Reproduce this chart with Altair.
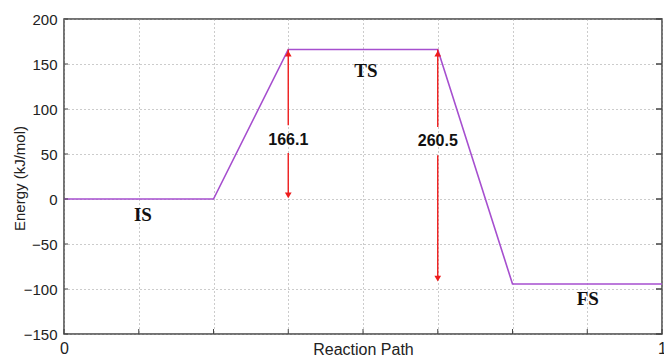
import altair as alt
import pandas as pd

# Energy profile
path_x = [0.0, 0.25, 0.375, 0.625, 0.75, 1.0]
path_e = [0.0, 0.0, 166.1, 166.1, -94.4, -94.4]

# state labels
state_names = ["IS", "TS", "FS"]
state_x = [0.132, 0.505, 0.876]
state_y = [-18.0, 142.0, -111.0]

# barrier arrows: segments (x, y_start, y_end)
seg_x = [0.375, 0.375, 0.625, 0.625]
seg_y1 = [166.1, 51.0, 166.1, 48.5]
seg_y2 = [82.0, 4.0, 80.0, -88.5]

head_x = [0.375, 0.375, 0.625, 0.625]
head_y = [161.5, 4.0, 161.5, -88.5]
head_shape = ["triangle-up", "triangle-down", "triangle-up", "triangle-down"]

barrier_text = ["166.1", "260.5"]
barrier_x = [0.375, 0.625]
barrier_y = [66.0, 64.5]

x_grid = [0, 0.125, 0.25, 0.375, 0.5, 0.625, 0.75, 0.875, 1.0]
y_ticks = [-150, -100, -50, 0, 50, 100, 150, 200]

W, H = 598, 315
xs = alt.Scale(domain=[0, 1], nice=False, zero=False)
ys = alt.Scale(domain=[-150, 200], nice=False, zero=False)

line_df = pd.DataFrame({"x": path_x, "e": path_e})
base_x = alt.X("x:Q", scale=xs,
               axis=alt.Axis(values=x_grid, title="Reaction Path",
                             labelExpr="datum.value == 0 ? '0' : (datum.value == 1 ? '1' : '')",
                             grid=True, gridDash=[1, 3], gridColor="#999999", gridOpacity=1,
                             ticks=False, domain=False, labelFont="Liberation Sans",
                             labelFontSize=16, labelColor="#222", labelPadding=6,
                             labelFlush=False,
                             titleFont="Liberation Sans", titleFontSize=16, titleFontWeight="normal",
                             titleColor="#222", titlePadding=-15))
base_y = alt.Y("e:Q", scale=ys,
               axis=alt.Axis(values=y_ticks, title="Energy (kJ/mol)",
                             grid=True, gridDash=[1, 3], gridColor="#999999", gridOpacity=1,
                             ticks=False, domain=False, labelFont="Liberation Sans",
                             labelFontSize=15, labelColor="#222", labelPadding=7,
                             titleFont="Liberation Sans", titleFontSize=15, titleFontWeight="normal",
                             titleColor="#222", titleX=-37, titleY=159))

line = alt.Chart(line_df).mark_line(color="#a64fcf", strokeWidth=1.6).encode(x=base_x, y=base_y)

seg_df = pd.DataFrame({"x": seg_x, "y1": seg_y1, "y2": seg_y2})
segs = alt.Chart(seg_df).mark_rule(color="#ee1c1c", strokeWidth=1.4).encode(
    x=alt.X("x:Q", scale=xs), y=alt.Y("y1:Q", scale=ys), y2="y2:Q")

head_df = pd.DataFrame({"x": head_x, "y": head_y, "shape": head_shape})
heads = alt.Chart(head_df).mark_point(filled=True, color="#ee1c1c", size=45, opacity=1).encode(
    x=alt.X("x:Q", scale=xs), y=alt.Y("y:Q", scale=ys),
    shape=alt.Shape("shape:N", scale=None))

bt_df = pd.DataFrame({"x": barrier_x, "y": barrier_y, "t": barrier_text})
btext = alt.Chart(bt_df).mark_text(font="Liberation Sans", fontWeight="bold", fontSize=16,
                                   color="#111").encode(
    x=alt.X("x:Q", scale=xs), y=alt.Y("y:Q", scale=ys), text="t:N")

st_df = pd.DataFrame({"x": state_x, "y": state_y, "t": state_names})
stext = alt.Chart(st_df).mark_text(font="Liberation Serif", fontWeight="bold", fontSize=19,
                                   color="#111").encode(
    x=alt.X("x:Q", scale=xs), y=alt.Y("y:Q", scale=ys), text="t:N")

# inward ticks on bottom and edges
btick_df = pd.DataFrame({"x": x_grid})
bticks = alt.Chart(btick_df).mark_rule(color="#444", strokeWidth=1).encode(
    x=alt.X("x:Q", scale=xs), y=alt.value(H), y2=alt.value(H - 5))
rtick_df = pd.DataFrame({"y": y_ticks})
rticks = alt.Chart(rtick_df).mark_rule(color="#444", strokeWidth=1.5).encode(
    y=alt.Y("y:Q", scale=ys), x=alt.value(W), x2=alt.value(W - 6))
lticks = alt.Chart(rtick_df).mark_rule(color="#444", strokeWidth=1).encode(
    y=alt.Y("y:Q", scale=ys), x=alt.value(0), x2=alt.value(4))

chart = alt.layer(line, segs, heads, btext, stext, bticks, rticks, lticks).properties(
    width=W, height=H,
    autosize=alt.AutoSizeParams(type="none"),
    padding={"left": 64, "top": 19, "right": 2, "bottom": 22},
    background="white",
).configure_view(stroke="#444", strokeWidth=1.5)

chart.save("out.html", embed_options={"renderer": "svg", "actions": False})
